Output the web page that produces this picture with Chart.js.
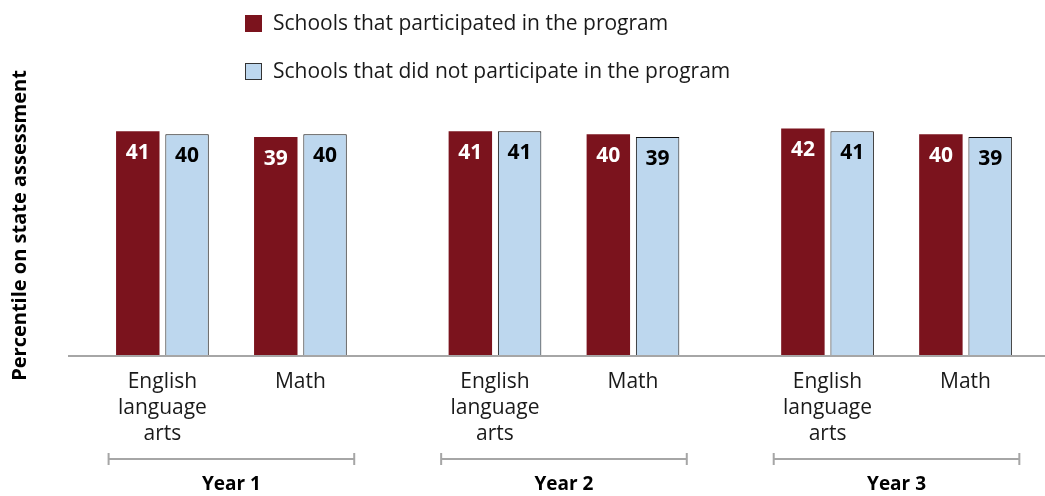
<!DOCTYPE html>
<html>
<head>
<meta charset="utf-8">
<script src="https://cdn.jsdelivr.net/npm/chart.js@4.4.0/dist/chart.umd.min.js"></script>
<style>
  html, body { margin: 0; padding: 0; background: #fff; }
  #wrap { width: 1045px; height: 496px; }
</style>
</head>
<body>
<div id="wrap"><canvas id="myChart"></canvas></div>
<script>
// DATA
var years = ["Year 1", "Year 2", "Year 3"];
var subjects = [["English", "language", "arts"], ["Math"]];
var seriesNames = ["Schools that participated in the program", "Schools that did not participate in the program"];
// order: Y1 ELA, Y1 Math, Y2 ELA, Y2 Math, Y3 ELA, Y3 Math
var participated = [41, 39, 41, 40, 42, 40];
var notParticipated = [40, 40, 41, 39, 41, 39];

var RED = '#7b131d';
var BLUE = '#bdd7ee';
var FONT = '"Open Sans", "Noto Sans", sans-serif';
var Y_MIN = -37, Y_MAX = 53.6;

// layout: each year is a pair of categories, years are set apart by a wider gap
var yearGap = 2.41;
var bracketExt = 0.39;
var positions = [];
var tickLabels = [];
years.forEach(function (y, i) {
  subjects.forEach(function (s, j) {
    positions.push(i * yearGap + j);
    tickLabels.push(s);
  });
});

function toPoints(values) {
  return values.map(function (v, i) { return { x: positions[i], y: v }; });
}

// numbers inside the top of every bar
var valueLabels = {
  id: 'valueLabels',
  afterDatasetsDraw: function (chart) {
    var ctx = chart.ctx;
    ctx.save();
    ctx.font = 'bold 21px ' + FONT;
    ctx.textAlign = 'center';
    ctx.textBaseline = 'middle';
    chart.data.datasets.forEach(function (ds, di) {
      ctx.fillStyle = di === 0 ? '#ffffff' : '#000000';
      chart.getDatasetMeta(di).data.forEach(function (bar, i) {
        ctx.fillText(ds.data[i].y, bar.x, bar.y + 22);
      });
    });
    ctx.restore();
  }
};

// stacked legend at the top
var legendBox = {
  id: 'legendBox',
  afterDraw: function (chart) {
    var ctx = chart.ctx;
    ctx.save();
    ctx.font = '21px ' + FONT;
    ctx.textBaseline = 'middle';
    chart.data.datasets.forEach(function (ds, i) {
      var top = 15 + i * 48;
      ctx.fillStyle = ds.backgroundColor;
      ctx.fillRect(245, top, 17, 17);
      if (ds.borderWidth) {
        ctx.strokeStyle = '#333333';
        ctx.lineWidth = 1;
        ctx.strokeRect(245.5, top + 0.5, 16, 16);
      }
      ctx.fillStyle = '#1a1a1a';
      ctx.fillText(ds.label, 273, top + 9);
    });
    ctx.restore();
  }
};

// year brackets under the category labels
var yearBrackets = {
  id: 'yearBrackets',
  afterDraw: function (chart) {
    var ctx = chart.ctx;
    var xs = chart.scales.x;
    var by = chart.chartArea.bottom + 103;
    ctx.save();
    ctx.strokeStyle = '#a6a6a6';
    ctx.lineWidth = 2;
    ctx.fillStyle = '#000000';
    ctx.font = 'bold 19px ' + FONT;
    ctx.textAlign = 'center';
    ctx.textBaseline = 'middle';
    years.forEach(function (y, i) {
      var x0 = xs.getPixelForValue(i * yearGap - bracketExt);
      var x1 = xs.getPixelForValue(i * yearGap + 1 + bracketExt);
      ctx.beginPath();
      ctx.moveTo(x0, by); ctx.lineTo(x1, by);
      ctx.moveTo(x0, by - 6); ctx.lineTo(x0, by + 6);
      ctx.moveTo(x1, by - 6); ctx.lineTo(x1, by + 6);
      ctx.stroke();
      ctx.fillText(y, (x0 + x1) / 2, by + 26);
    });
    ctx.restore();
  }
};

var ctx = document.getElementById('myChart').getContext('2d');
var chart = new Chart(ctx, {
  type: 'bar',
  data: {
    datasets: [{
      label: seriesNames[0],
      data: toPoints(participated),
      backgroundColor: RED,
      borderWidth: 0,
      base: Y_MIN,
      categoryPercentage: 0.714,
      barPercentage: 0.882
    }, {
      label: seriesNames[1],
      data: toPoints(notParticipated),
      backgroundColor: BLUE,
      borderColor: '#111111',
      borderWidth: 1,
      base: Y_MIN,
      categoryPercentage: 0.714,
      barPercentage: 0.882
    }]
  },
  options: {
    responsive: true,
    maintainAspectRatio: false,
    animation: false,
    layout: { padding: { top: 95, left: 0, right: 0, bottom: 36 } },
    plugins: {
      legend: { display: false },
      tooltip: { enabled: false }
    },
    scales: {
      x: {
        type: 'linear',
        min: -0.677,
        max: 6.396,
        offset: false,
        grid: { display: false, drawTicks: false },
        border: { display: true, color: '#a6a6a6', width: 2, z: 1 },
        afterBuildTicks: function (scale) {
          scale.ticks = positions.map(function (p) { return { value: p }; });
        },
        ticks: {
          autoSkip: false,
          maxRotation: 0,
          padding: 13,
          color: '#1a1a1a',
          font: { family: FONT, size: 21, lineHeight: 1.24 },
          callback: function (value, index) { return tickLabels[index]; }
        }
      },
      y: {
        min: Y_MIN,
        max: Y_MAX,
        grid: { display: false, drawTicks: false },
        border: { display: false },
        ticks: { display: false },
        title: {
          display: true,
          text: 'Percentile on state assessment',
          color: '#000000',
          font: { family: FONT, size: 20, weight: 'bold' },
          padding: { top: 8, bottom: 37 }
        }
      }
    }
  },
  plugins: [valueLabels, legendBox, yearBrackets]
});
</script>
</body>
</html>
